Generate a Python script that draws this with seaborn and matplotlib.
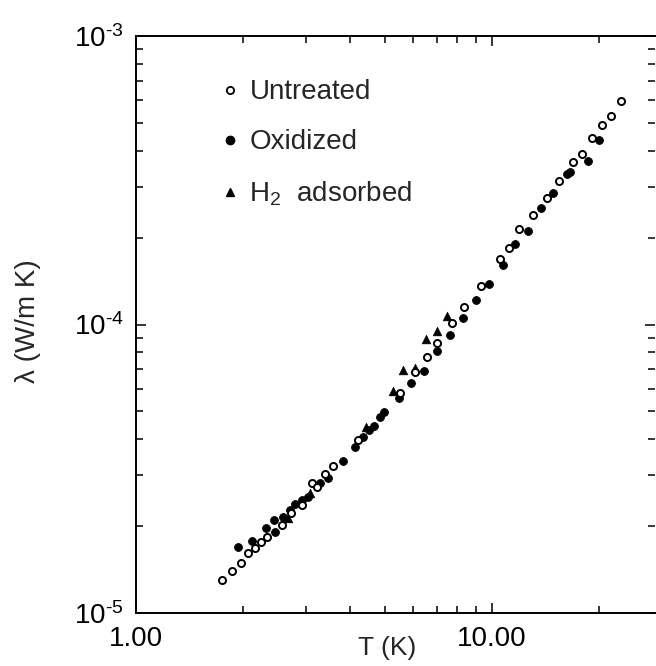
import numpy as np
import pandas as pd
import matplotlib
matplotlib.use("Agg")
import matplotlib.pyplot as plt
from matplotlib.lines import Line2D
from matplotlib.ticker import FixedLocator, FixedFormatter, LogLocator, NullFormatter
import seaborn as sns

# ---- data ----
untreated_T = [1.745, 1.861, 1.978, 2.070, 2.160, 2.244, 2.333, 2.567, 2.725, 2.921,
               3.115, 3.218, 3.395, 3.568, 4.211, 5.514, 6.075, 6.580, 7.020, 7.705,
               8.343, 9.296, 10.56, 11.14, 11.88, 13.01, 14.24, 15.46, 16.86, 17.92,
               19.07, 20.31, 21.60, 22.96]
untreated_lam = [1.302e-5, 1.398e-5, 1.485e-5, 1.608e-5, 1.680e-5, 1.756e-5, 1.827e-5,
                 2.018e-5, 2.222e-5, 2.368e-5, 2.816e-5, 2.741e-5, 3.026e-5, 3.232e-5,
                 3.978e-5, 5.801e-5, 6.864e-5, 7.699e-5, 8.606e-5, 1.010e-4, 1.153e-4,
                 1.360e-4, 1.683e-4, 1.837e-4, 2.138e-4, 2.396e-4, 2.734e-4, 3.143e-4,
                 3.659e-4, 3.885e-4, 4.431e-4, 4.896e-4, 5.294e-4, 5.967e-4]

oxidized_T = [1.934, 2.118, 2.318, 2.457, 2.441, 2.593, 2.708, 2.797, 2.921, 3.048,
              3.286, 3.468, 3.807, 4.123, 4.350, 4.522, 4.670, 4.847, 4.984, 5.468,
              5.939, 6.449, 7.020, 7.645, 8.274, 9.018, 9.827, 10.72, 11.59, 12.66,
              13.77, 14.87, 16.27, 16.56, 18.55, 20.02]
oxidized_lam = [1.694e-5, 1.777e-5, 1.971e-5, 1.909e-5, 2.101e-5, 2.157e-5, 2.275e-5,
                2.387e-5, 2.465e-5, 2.530e-5, 2.816e-5, 2.930e-5, 3.372e-5, 3.747e-5,
                4.085e-5, 4.309e-5, 4.459e-5, 4.769e-5, 4.963e-5, 5.561e-5, 6.245e-5,
                6.919e-5, 8.111e-5, 9.160e-5, 1.057e-4, 1.216e-4, 1.381e-4, 1.605e-4,
                1.908e-4, 2.114e-4, 2.529e-4, 2.849e-4, 3.337e-4, 3.370e-4, 3.688e-4,
                4.361e-4]

h2_T = [2.673, 3.082, 4.426, 5.260, 5.633, 6.064, 6.539, 7.008, 7.487]
h2_lam = [2.135e-5, 2.605e-5, 4.413e-5, 5.881e-5, 6.982e-5, 7.039e-5, 8.872e-5,
          9.495e-5, 1.068e-4]

series_labels = ["Untreated", "Oxidized", "H$_2$  adsorbed"]
x_tick_values = [1.0, 10.0]
x_tick_labels = ["1.00", "10.00"]
y_tick_values = [1e-5, 1e-4, 1e-3]
y_tick_labels = ["10$^{\\text{-}5}$", "10$^{\\text{-}4}$", "10$^{\\text{-}3}$"]

# ---- style ----
sns.set_theme(style="ticks")
plt.rcParams["font.family"] = ["Liberation Sans", "DejaVu Sans"]
plt.rcParams["mathtext.fontset"] = "custom"
plt.rcParams["mathtext.rm"] = "Liberation Sans"
plt.rcParams["mathtext.it"] = "Liberation Sans:italic"
plt.rcParams["mathtext.bf"] = "Liberation Sans:bold"
plt.rcParams["axes.unicode_minus"] = False

W, H = 656, 666
fig = plt.figure(figsize=(W / 100, H / 100), dpi=100)
ax = fig.add_axes([136 / W, (H - 613) / H, 519 / W, 577 / H])

df_u = pd.DataFrame({"T": untreated_T, "lam": untreated_lam})
df_o = pd.DataFrame({"T": oxidized_T, "lam": oxidized_lam})
df_h = pd.DataFrame({"T": h2_T, "lam": h2_lam})

sns.scatterplot(data=df_o, x="T", y="lam", ax=ax, marker="o", s=32,
                color="black", edgecolor="black", linewidth=0.6, zorder=3)
sns.scatterplot(data=df_h, x="T", y="lam", ax=ax, marker="^", s=40,
                color="black", edgecolor="black", linewidth=0.4, zorder=3)
sns.scatterplot(data=df_u, x="T", y="lam", ax=ax, marker="o", s=26,
                facecolor="white", edgecolor="black", linewidth=1.4, zorder=4)

ax.set_xscale("log")
ax.set_yscale("log")
ax.set_xlim(1.0, 28.7)
ax.set_ylim(1e-5, 1e-3)

ax.xaxis.set_major_locator(FixedLocator(x_tick_values))
ax.xaxis.set_major_formatter(FixedFormatter(x_tick_labels))
ax.xaxis.set_minor_locator(LogLocator(base=10, subs=np.arange(2, 10)))
ax.xaxis.set_minor_formatter(NullFormatter())
ax.yaxis.set_major_locator(FixedLocator(y_tick_values))
ax.yaxis.set_major_formatter(FixedFormatter(y_tick_labels))
ax.yaxis.set_minor_locator(LogLocator(base=10, subs=np.arange(2, 10)))
ax.yaxis.set_minor_formatter(NullFormatter())

ax.tick_params(which="both", direction="in", top=True, right=True,
               color="black", width=1.1, labelsize=20, labelcolor="black")
ax.tick_params(which="major", length=7, pad=9)
ax.tick_params(which="minor", length=5)
for sp in ax.spines.values():
    sp.set_linewidth(1.4)
    sp.set_color("black")
ax.spines["right"].set_visible(False)

ax.set_xlabel("T (K)", fontsize=19)
ax.xaxis.label.set_va("center")
ax.xaxis.set_label_coords(0.484, -0.061)
ax.set_ylabel("λ (W/m K)", fontsize=20)
ax.yaxis.label.set_va("center")
ax.yaxis.set_label_coords(-0.208, 0.506)

handles = [
    Line2D([], [], linestyle="none", marker="o", markersize=5.2,
           markerfacecolor="white", markeredgecolor="black", markeredgewidth=1.3),
    Line2D([], [], linestyle="none", marker="o", markersize=6,
           markerfacecolor="black", markeredgecolor="black"),
    Line2D([], [], linestyle="none", marker="^", markersize=6,
           markerfacecolor="black", markeredgecolor="black"),
]
ax.legend(handles, series_labels, loc="upper left", bbox_to_anchor=(0.165, 0.925),
          frameon=False, fontsize=20, handlelength=0.6, handletextpad=0.4,
          labelspacing=0.87, borderpad=0, borderaxespad=0)

fig.savefig("out.png", dpi=100)
